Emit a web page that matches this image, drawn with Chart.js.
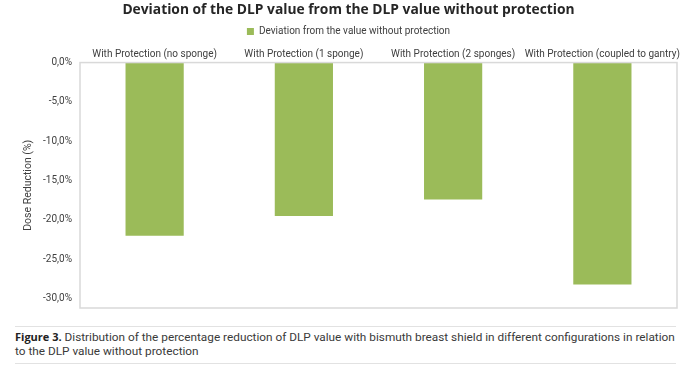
<!DOCTYPE html>
<html>
<head>
<meta charset="utf-8">
<script src="https://cdn.jsdelivr.net/npm/chart.js@4/dist/chart.umd.min.js"></script>
<style>
  html, body { margin: 0; padding: 0; background: #fff; }
  #wrap { width: 691px; height: 318px; position: relative; }
  .caption {
    position: absolute; left: 15px; top: 326px; width: 661px;
    border-top: 1px solid #e2e2e2; border-bottom: 1px solid #e2e2e2;
    padding: 3px 0 4px 0; box-sizing: border-box; height: 38px;
    font-family: 'Roboto', sans-serif; font-size: 11.8px; line-height: 14px; color: #3a3a3a;
  }
  .caption b { font-family: 'Open Sans', sans-serif; font-weight: 700; color: #222; font-size: 11px; }
</style>
</head>
<body>
<div id="wrap"><canvas id="chart"></canvas></div>
<div class="caption"><b>Figure 3.</b> Distribution of the percentage reduction of DLP value with bismuth breast shield in different configurations in relation to the DLP value without protection</div>
<script>
const categories = [
  'With Protection (no sponge)',
  'With Protection (1 sponge)',
  'With Protection (2 sponges)',
  'With Protection (coupled to gantry)'
];
const deviation = [-22.0, -19.5, -17.4, -28.2];
const yTicks = [0, -5, -10, -15, -20, -25, -30];

const frame = {
  id: 'frame',
  afterDraw(chart) {
    const { ctx, chartArea: a } = chart;
    ctx.save();
    ctx.strokeStyle = '#d9d9d9';
    ctx.lineWidth = 1.5;
    ctx.strokeRect(a.left, a.top, a.right - a.left, a.bottom - a.top);
    ctx.restore();
  }
};

new Chart(document.getElementById('chart'), {
  type: 'bar',
  data: {
    labels: categories,
    datasets: [{
      label: 'Deviation from the value without protection',
      data: deviation,
      backgroundColor: '#9bbb59',
      barPercentage: 0.39,
      categoryPercentage: 1
    }]
  },
  options: {
    responsive: true,
    maintainAspectRatio: false,
    animation: false,
    layout: { padding: { left: 20, right: 14, top: 2, bottom: 3 } },
    plugins: {
      title: {
        display: true,
        text: 'Deviation of the DLP value from the DLP value without protection',
        color: '#262626',
        font: { family: 'Open Sans', size: 13.8, weight: 'bold' },
        padding: { top: 0, bottom: 6 }
      },
      legend: {
        display: true,
        labels: {
          color: '#404040',
          font: { family: 'Roboto', size: 10 },
          boxWidth: 7, boxHeight: 7, padding: 2
        }
      },
      tooltip: { enabled: false }
    },
    scales: {
      x: {
        position: 'top',
        grid: { display: false, drawTicks: false },
        border: { display: false },
        ticks: { color: '#404040', font: { family: 'Roboto', size: 10 }, padding: 2, maxRotation: 0, autoSkip: false }
      },
      y: {
        min: -31.2,
        max: 0,
        afterBuildTicks: axis => { axis.ticks = yTicks.map(v => ({ value: v })); },
        afterFit: axis => { axis.width = 60; },
        grid: { display: false, drawOnChartArea: false, drawTicks: true, tickLength: 4, color: '#d9d9d9' },
        border: { display: false },
        ticks: {
          color: '#404040',
          font: { family: 'Roboto', size: 10 },
          padding: 4,
          callback: v => v.toFixed(1).replace('.', ',') + '%'
        },
        title: {
          display: true,
          text: 'Dose Reduction (%)',
          color: '#404040',
          font: { family: 'Roboto', size: 10.5 },
          padding: { top: 2, bottom: 6 }
        }
      }
    }
  },
  plugins: [frame]
});
</script>
</body>
</html>
